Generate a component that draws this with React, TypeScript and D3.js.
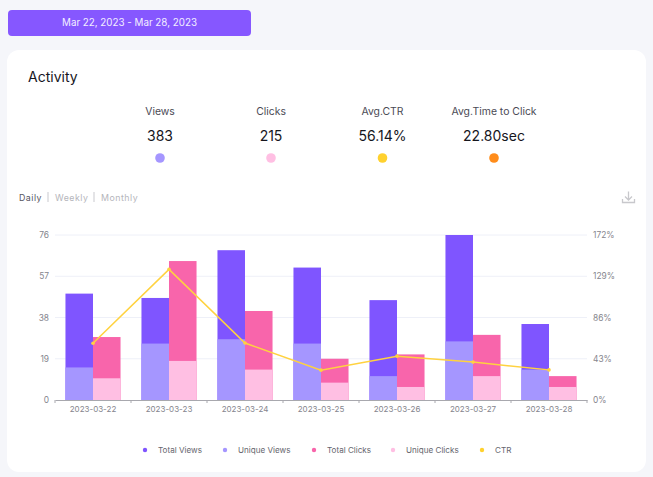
import React, { useEffect, useRef } from "react";
import * as d3 from "d3";

const dates = ["2023-03-22", "2023-03-23", "2023-03-24", "2023-03-25", "2023-03-26", "2023-03-27", "2023-03-28"];
const totalViews = [49, 47, 69, 61, 46, 76, 35];
const uniqueViews = [15, 26, 28, 26, 11, 27, 14];
const totalClicks = [29, 64, 41, 19, 21, 30, 11];
const uniqueClicks = [10, 18, 14, 8, 6, 11, 6];
const ctr = [59.2, 136.2, 59.4, 31.1, 45.7, 39.5, 31.4];

const countTicks = [0, 19, 38, 57, 76];
const ctrTicks = [0, 43, 86, 129, 172];

const stats = [
  { label: "Views", value: "383", color: "#a596ff" },
  { label: "Clicks", value: "215", color: "#ffbfe3" },
  { label: "Avg.CTR", value: "56.14%", color: "#ffd12e" },
  { label: "Avg.Time to Click", value: "22.80sec", color: "#ff8c1a" },
];
const statX = [160, 271, 382.5, 494];

const legendItems = [
  { label: "Total Views", color: "#7f55ff" },
  { label: "Unique Views", color: "#a596ff" },
  { label: "Total Clicks", color: "#f865ab" },
  { label: "Unique Clicks", color: "#ffbfe3" },
  { label: "CTR", color: "#ffd12e" },
];
const legendX = [145, 225, 314, 393, 482];

const font = "Inter, 'Noto Sans', sans-serif";

const App: React.FC = () => {
  const svgRef = useRef<SVGSVGElement | null>(null);

  useEffect(() => {
    const width = 653;
    const height = 477;
    const marginTop = 235;
    const marginRight = 66;
    const marginBottom = 77;
    const marginLeft = 55;

    const svg = d3.select(svgRef.current);
    svg.selectAll("*").remove();
    svg.attr("width", width).attr("height", height).attr("viewBox", [0, 0, width, height]);

    const x = d3
      .scaleBand()
      .domain(dates)
      .range([marginLeft, width - marginRight]);
    const inner = d3
      .scaleBand()
      .domain(["views", "clicks"])
      .range([0, x.bandwidth()])
      .paddingInner(0)
      .paddingOuter(0.38);
    const y = d3
      .scaleLinear()
      .domain([0, 76])
      .range([height - marginBottom, marginTop]);
    const yCtr = d3
      .scaleLinear()
      .domain([0, 172])
      .range([height - marginBottom, marginTop]);

    // page + card
    svg.append("rect").attr("width", width).attr("height", height).attr("fill", "#f5f6fa");
    svg
      .append("rect")
      .attr("x", 7)
      .attr("y", 50)
      .attr("width", 639)
      .attr("height", 422)
      .attr("rx", 12)
      .attr("fill", "#fff");

    // date button
    svg
      .append("rect")
      .attr("x", 8)
      .attr("y", 10)
      .attr("width", 243)
      .attr("height", 26)
      .attr("rx", 4)
      .attr("fill", "#8657ff");
    svg
      .append("text")
      .attr("x", 129.5)
      .attr("y", 26)
      .attr("text-anchor", "middle")
      .attr("fill", "#f3eeff")
      .attr("font-size", 9.8)
      .text("Mar 22, 2023 - Mar 28, 2023");

    svg
      .append("text")
      .attr("x", 28)
      .attr("y", 82)
      .attr("fill", "#16161d")
      .attr("font-size", 14)
      .attr("font-weight", 400)
      .text("Activity");

    // stats row
    const statGroup = svg
      .selectAll(".stat")
      .data(stats)
      .enter()
      .append("g")
      .attr("class", "stat")
      .attr("transform", (_, i) => `translate(${statX[i]},0)`)
      .attr("text-anchor", "middle");
    statGroup
      .append("text")
      .attr("y", 115)
      .attr("fill", "#4a4a55")
      .attr("font-size", 10.4)
      .text((d) => d.label);
    statGroup
      .append("text")
      .attr("y", 141)
      .attr("fill", "#16161d")
      .attr("font-size", 14)
      .attr("font-weight", 400)
      .text((d) => d.value);
    statGroup
      .append("circle")
      .attr("cy", 158)
      .attr("r", 4.8)
      .attr("fill", (d) => d.color);

    // period switch
    const periods = [
      { label: "Daily", x: 19, color: "#55555f" },
      { label: "Weekly", x: 55, color: "#b5b5bb" },
      { label: "Monthly", x: 101, color: "#b5b5bb" },
    ];
    svg
      .selectAll(".period")
      .data(periods)
      .enter()
      .append("text")
      .attr("class", "period")
      .attr("x", (d) => d.x)
      .attr("y", 200.5)
      .attr("fill", (d) => d.color)
      .attr("font-size", 8.8)
      .attr("letter-spacing", 0.5)
      .text((d) => d.label);
    svg
      .selectAll(".sep")
      .data([48, 94])
      .enter()
      .append("line")
      .attr("x1", (d) => d)
      .attr("x2", (d) => d)
      .attr("y1", 192)
      .attr("y2", 202)
      .attr("stroke", "#c9c9ce");

    // download icon
    const icon = svg
      .append("g")
      .attr("transform", "translate(622,191)")
      .attr("fill", "none")
      .attr("stroke", "#c8c8cc")
      .attr("stroke-width", 1.3);
    icon.append("path").attr("d", "M0.5 8v3.5h12V8");
    icon.append("path").attr("d", "M6.5 0.5v8M3 5.5l3.5 3.5L10 5.5");

    // grid
    svg
      .selectAll(".grid")
      .data(countTicks.slice(1))
      .enter()
      .append("line")
      .attr("class", "grid")
      .attr("x1", marginLeft)
      .attr("x2", width - marginRight)
      .attr("y1", (d) => y(d))
      .attr("y2", (d) => y(d))
      .attr("stroke", "#eef0f8");

    // bars, unique drawn on top of total
    const barSeries = [
      { key: "views", values: totalViews, color: "#7f55ff" },
      { key: "views", values: uniqueViews, color: "#a596ff" },
      { key: "clicks", values: totalClicks, color: "#f865ab" },
      { key: "clicks", values: uniqueClicks, color: "#ffbfe3" },
    ];
    barSeries.forEach((s) => {
      svg
        .append("g")
        .selectAll("rect")
        .data(s.values)
        .enter()
        .append("rect")
        .attr("x", (_, i) => (x(dates[i]) as number) + (inner(s.key) as number))
        .attr("y", (d) => y(d))
        .attr("width", inner.bandwidth())
        .attr("height", (d) => y(0) - y(d))
        .attr("fill", s.color);
    });

    // x axis, ticks sit on the band edges
    const gx = svg
      .append("g")
      .attr("transform", `translate(0,${height - marginBottom})`)
      .call(d3.axisBottom(x).tickSize(0).tickPadding(6));
    gx.select(".domain").attr("stroke", "#a8a8ae").attr("stroke-width", 1.2);
    gx.selectAll("text").attr("fill", "#85858d").attr("font-size", 8).attr("font-family", font);
    gx.selectAll(".edge")
      .data([...dates.map((d) => x(d) as number), width - marginRight])
      .enter()
      .append("line")
      .attr("class", "edge")
      .attr("x1", (d) => d)
      .attr("x2", (d) => d)
      .attr("y1", 0)
      .attr("y2", 3)
      .attr("stroke", "#a8a8ae");

    // y axes
    const gy = svg
      .append("g")
      .attr("transform", `translate(${marginLeft},0)`)
      .call(d3.axisLeft(y).tickValues(countTicks).tickSize(0).tickPadding(6));
    gy.select(".domain").remove();
    gy.selectAll("text").attr("fill", "#85858d").attr("font-size", 8.4).attr("font-family", font);

    const gr = svg
      .append("g")
      .attr("transform", `translate(${width - marginRight},0)`)
      .call(
        d3
          .axisRight(yCtr)
          .tickValues(ctrTicks)
          .tickSize(0)
          .tickPadding(6)
          .tickFormat((d) => `${d}%`),
      );
    gr.select(".domain").remove();
    gr.selectAll("text").attr("fill", "#85858d").attr("font-size", 8.4).attr("font-family", font);

    // CTR line
    const line = d3
      .line<number>()
      .x((_, i) => (x(dates[i]) as number) + x.bandwidth() / 2)
      .y((d) => yCtr(d));
    svg
      .append("path")
      .attr("d", line(ctr))
      .attr("fill", "none")
      .attr("stroke", "#ffd23f")
      .attr("stroke-width", 1.5);
    svg
      .append("g")
      .selectAll("circle")
      .data(ctr)
      .enter()
      .append("circle")
      .attr("cx", (_, i) => (x(dates[i]) as number) + x.bandwidth() / 2)
      .attr("cy", (d) => yCtr(d))
      .attr("r", 1.8)
      .attr("fill", "#ffd23f");

    // legend
    const legend = svg
      .selectAll(".legend")
      .data(legendItems)
      .enter()
      .append("g")
      .attr("class", "legend")
      .attr("transform", (_, i) => `translate(${legendX[i]},450)`);
    legend
      .append("circle")
      .attr("r", 2.2)
      .attr("fill", (d) => d.color);
    legend
      .append("text")
      .attr("x", 13)
      .attr("y", 3.1)
      .attr("fill", "#66666e")
      .attr("font-size", 8.1)
      .text((d) => d.label);
  }, []);

  return <svg ref={svgRef} style={{ position: "absolute", left: 0, top: 0, fontFamily: font }}></svg>;
};

export default App;
